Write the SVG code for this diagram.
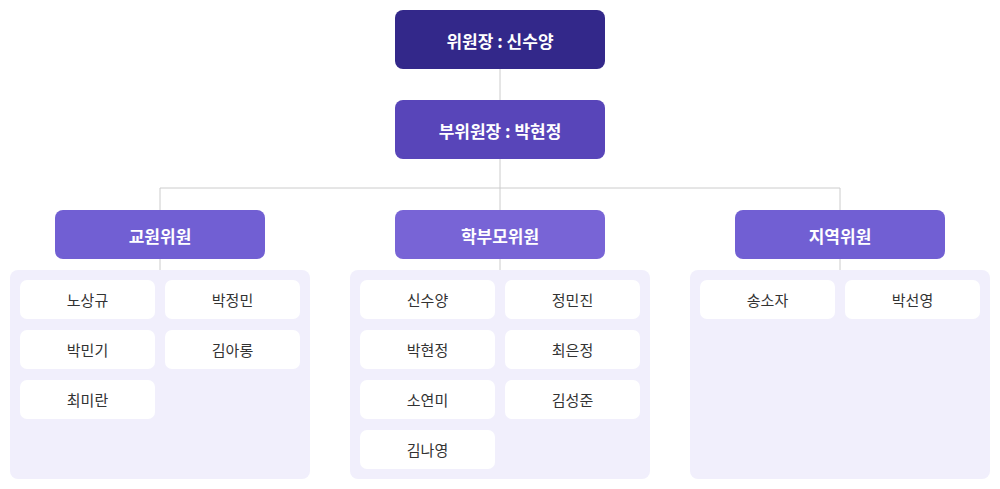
<svg xmlns="http://www.w3.org/2000/svg" width="1000" height="489" viewBox="0 0 1000 489">
<style>
.t{font-family:"Noto Sans CJK KR","Noto Sans",sans-serif;text-anchor:middle;dominant-baseline:central}
.h{fill:#fff;font-size:17px;font-weight:bold}
.i{fill:#333;font-size:15px}
.p{fill:#f1effc}
.c{fill:#fff}
</style>
<rect width="1000" height="489" fill="#fff"/>
<g id="connectors" stroke="#cccccc" stroke-width="1" fill="none">
<path d="M500 69V100M500 159V188M160 188H840M160 188V210M500 188V210M840 188V210M160 259V270M500 259V270M840 259V270"/>
</g>
<g id="chair"><rect x="395" y="10" width="210" height="59" rx="8" fill="#33288a"/><text class="t h" x="500" y="40">위원장 : 신수양</text></g>
<g id="vice"><rect x="395" y="100" width="210" height="59" rx="8" fill="#5845b9"/><text class="t h" x="500" y="130">부위원장 : 박현정</text></g>
<g id="g1"><rect x="55" y="210" width="210" height="49" rx="8" fill="#715fd3"/><text class="t h" x="160" y="235">교원위원</text></g>
<g id="g2"><rect x="395" y="210" width="210" height="49" rx="8" fill="#7864d6"/><text class="t h" x="500" y="235">학부모위원</text></g>
<g id="g3"><rect x="735" y="210" width="210" height="49" rx="8" fill="#715fd3"/><text class="t h" x="840" y="235">지역위원</text></g>
<g id="p1"><rect class="p" x="10" y="270" width="300" height="209" rx="8"/>
<rect class="c" x="20" y="280" width="135" height="39" rx="7"/><text class="t i" x="87.5" y="299.5">노상규</text>
<rect class="c" x="165" y="280" width="135" height="39" rx="7"/><text class="t i" x="232.5" y="299.5">박정민</text>
<rect class="c" x="20" y="330" width="135" height="39" rx="7"/><text class="t i" x="87.5" y="349.5">박민기</text>
<rect class="c" x="165" y="330" width="135" height="39" rx="7"/><text class="t i" x="232.5" y="349.5">김아롱</text>
<rect class="c" x="20" y="380" width="135" height="39" rx="7"/><text class="t i" x="87.5" y="399.5">최미란</text>
</g>
<g id="p2"><rect class="p" x="350" y="270" width="300" height="209" rx="8"/>
<rect class="c" x="360" y="280" width="135" height="39" rx="7"/><text class="t i" x="427.5" y="299.5">신수양</text>
<rect class="c" x="505" y="280" width="135" height="39" rx="7"/><text class="t i" x="572.5" y="299.5">정민진</text>
<rect class="c" x="360" y="330" width="135" height="39" rx="7"/><text class="t i" x="427.5" y="349.5">박현정</text>
<rect class="c" x="505" y="330" width="135" height="39" rx="7"/><text class="t i" x="572.5" y="349.5">최은정</text>
<rect class="c" x="360" y="380" width="135" height="39" rx="7"/><text class="t i" x="427.5" y="399.5">소연미</text>
<rect class="c" x="505" y="380" width="135" height="39" rx="7"/><text class="t i" x="572.5" y="399.5">김성준</text>
<rect class="c" x="360" y="430" width="135" height="39" rx="7"/><text class="t i" x="427.5" y="449.5">김나영</text>
</g>
<g id="p3"><rect class="p" x="690" y="270" width="300" height="209" rx="8"/>
<rect class="c" x="700" y="280" width="135" height="39" rx="7"/><text class="t i" x="767.5" y="299.5">송소자</text>
<rect class="c" x="845" y="280" width="135" height="39" rx="7"/><text class="t i" x="912.5" y="299.5">박선영</text>
</g>
</svg>
